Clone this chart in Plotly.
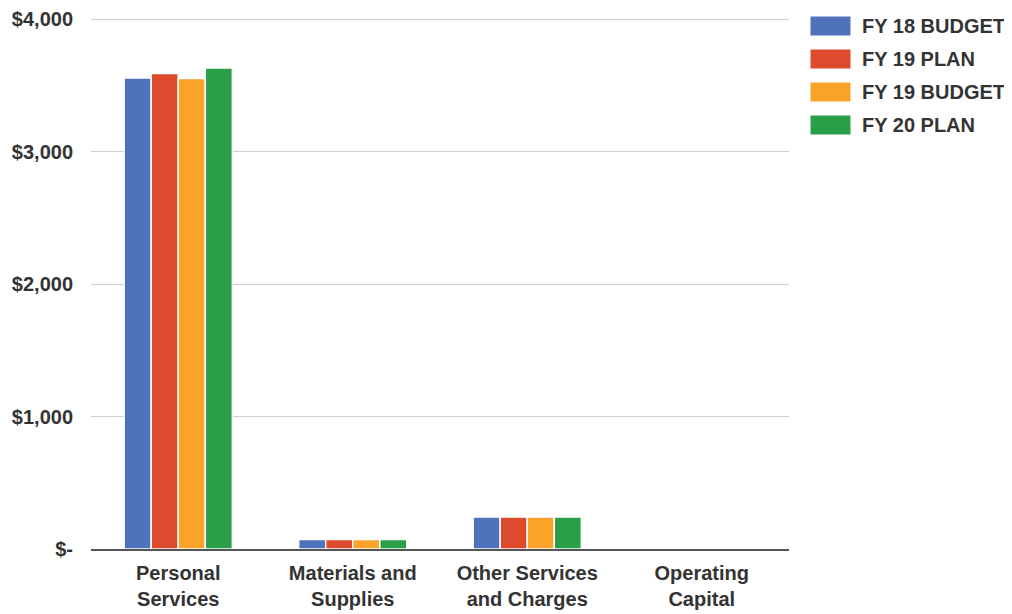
import plotly.graph_objects as go

categories = ["Personal<br>Services", "Materials and<br>Supplies", "Other Services<br>and Charges", "Operating<br>Capital"]
series_names = ["FY 18 BUDGET", "FY 19 PLAN", "FY 19 BUDGET", "FY 20 PLAN"]
fy18_budget = [3556, 72, 241, 0]
fy19_plan = [3589, 72, 241, 0]
fy19_budget = [3552, 72, 241, 0]
fy20_plan = [3631, 72, 241, 0]
colors = ["#4F72BA", "#DE4A2C", "#F9A328", "#2A9F4A"]
y_ticks = [0, 1000, 2000, 3000, 4000]
y_labels = ["$-", "$1,000", "$2,000", "$3,000", "$4,000"]

font = "Liberation Sans, Arial, sans-serif"
fs = 20
fig = go.Figure()
for name, vals, c in zip(series_names, [fy18_budget, fy19_plan, fy19_budget, fy20_plan], colors):
    fig.add_trace(go.Bar(x=categories, y=vals, name=name, marker_color=c,
                         marker_line_color="white", marker_line_width=1.5,
                         showlegend=False))

# legend drawn as boxes + labels (positions relative to plot area)
for i, (name, c) in enumerate(zip(series_names, colors)):
    y0 = 16 + i * 33
    fig.add_shape(type="rect", xref="paper", yref="paper",
                  x0=(810 - 91) / 698, x1=(851 - 91) / 698,
                  y0=(549 - (y0 + 20)) / 531, y1=(549 - y0) / 531,
                  fillcolor=c, line=dict(color="white", width=1))
    fig.add_annotation(text="<b>" + name + "</b>", xref="paper", yref="paper",
                       x=(860 - 91) / 698, y=(549 - (y0 + 10)) / 531,
                       xanchor="left", yanchor="middle", showarrow=False,
                       font=dict(family=font, size=fs, color="#333333"))

fig.update_layout(
    width=1012, height=614,
    margin=dict(l=83, r=231, t=10, b=73),
    plot_bgcolor="white", paper_bgcolor="white",
    barmode="group", bargap=0.38, bargroupgap=0,
    font=dict(family=font, size=fs, color="#333333"),
    xaxis=dict(showline=True, linecolor="#555555", linewidth=2,
               tickfont=dict(family=font, size=fs, color="#333333"),
               ticks="", automargin=False, ticklabelstandoff=5),
    yaxis=dict(range=[0, 4008], tickvals=y_ticks, ticktext=["<b>" + t + "</b>" for t in y_labels],
               showgrid=True, gridcolor="#D0D0D0", gridwidth=1, zeroline=False,
               ticks="", ticklabelstandoff=17, automargin=False,
               tickfont=dict(family=font, size=fs, color="#333333")),
)
fig.update_xaxes(ticktext=["<b>" + c + "</b>" for c in categories], tickvals=categories)
fig.write_html("out.html")
